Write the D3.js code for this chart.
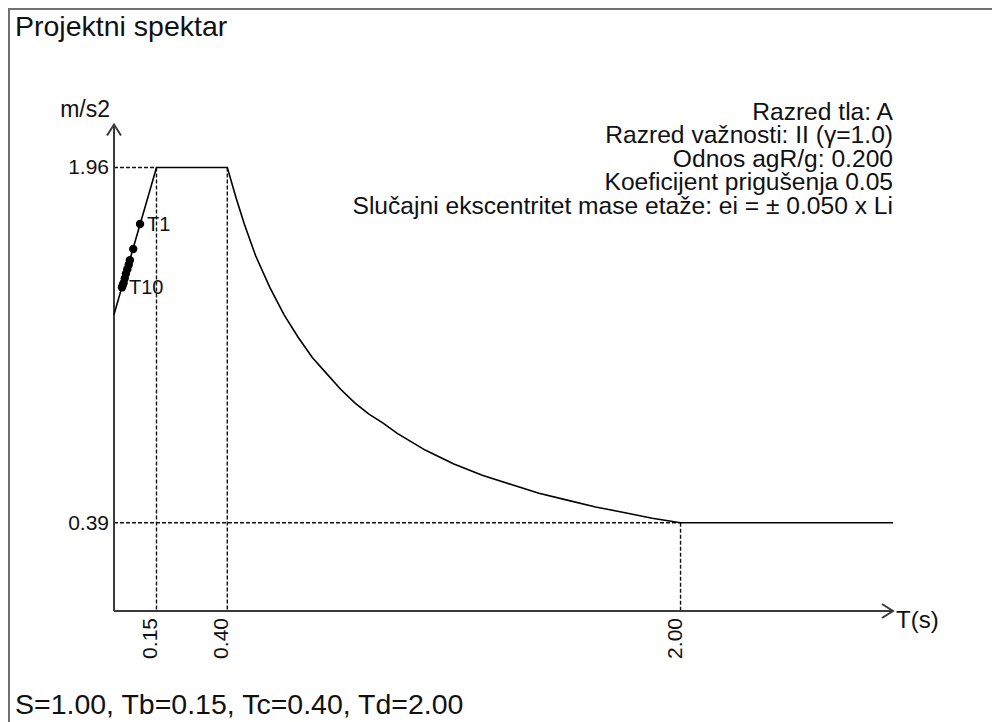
<!DOCTYPE html>
<html>
<head>
<meta charset="utf-8">
<script src="https://cdn.jsdelivr.net/npm/d3@7"></script>
<style>
  html, body { margin: 0; padding: 0; background: #fff; }
  svg { display: block; }
  text { font-family: "Liberation Sans", Arial, sans-serif; fill: #111; }
</style>
</head>
<body>
<svg id="chart" width="992" height="722"></svg>
<script>
// Design spectrum Sd(T), m/s2
const specT  = [0.00, 0.15, 0.40, 0.43, 0.46, 0.50, 0.55, 0.60, 0.65, 0.70, 0.75, 0.80, 0.85, 0.90, 0.95, 1.00, 1.10, 1.20, 1.30, 1.40, 1.50, 1.60, 1.70, 1.80, 1.90, 2.00, 2.75];
const specSd = [1.31, 1.96, 1.96, 1.83, 1.71, 1.57, 1.43, 1.31, 1.21, 1.12, 1.05, 0.98, 0.92, 0.87, 0.83, 0.785, 0.71, 0.65, 0.60, 0.56, 0.52, 0.49, 0.46, 0.435, 0.41, 0.39, 0.39];

// Periods of the structure's modes
const modeNames = ["T1", "T2", "T3", "T4", "T5", "T6", "T7", "T8", "T9", "T10"];
const modeT     = [0.092, 0.068, 0.056, 0.052, 0.047, 0.042, 0.038, 0.034, 0.031, 0.028];
const modeSd    = [1.71, 1.60, 1.55, 1.53, 1.51, 1.49, 1.47, 1.45, 1.44, 1.43];
const labeledModes = ["T1", "T10"];

// Characteristic periods and spectrum levels
const xTicks = [0.15, 0.40, 2.00];
const yTicks = [0.39, 1.96];

const title = "Projektni spektar";
const infoLines = [
  "Razred tla: A",
  "Razred važnosti: II (γ=1.0)",
  "Odnos agR/g: 0.200",
  "Koeficijent prigušenja 0.05",
  "Slučajni ekscentritet mase etaže: ei = ± 0.050 x Li"
];
const footer = "S=1.00, Tb=0.15, Tc=0.40, Td=2.00";

const svg = d3.select("#chart");

// frame
svg.append("path")
  .attr("d", "M9,722 V9 H992")
  .attr("fill", "none")
  .attr("stroke", "#707070")
  .attr("stroke-width", 2);

svg.append("text")
  .attr("x", 15).attr("y", 36)
  .attr("font-size", 28.5)
  .text(title);

svg.append("text")
  .attr("x", 15).attr("y", 714)
  .attr("font-size", 28.5)
  .text(footer);

const x = d3.scaleLinear().domain([0, 2.75]).range([114, 893]);
const y = d3.scaleLinear().domain([0, 2.15]).range([611, 124.5]);

// guide lines at the characteristic periods
const peak = d3.max(yTicks);
const floor = d3.min(yTicks);
const guides = [
  [[0, peak], [xTicks[0], peak]],
  [[xTicks[0], peak], [xTicks[0], 0]],
  [[xTicks[1], peak], [xTicks[1], 0]],
  [[0, floor], [xTicks[2], floor]],
  [[xTicks[2], floor], [xTicks[2], 0]]
];
svg.append("g").selectAll("line").data(guides).join("line")
  .attr("x1", d => x(d[0][0])).attr("y1", d => y(d[0][1]))
  .attr("x2", d => x(d[1][0])).attr("y2", d => y(d[1][1]))
  .attr("stroke", "#111")
  .attr("stroke-width", 1.4)
  .attr("stroke-dasharray", "4,2");

// axes with open arrow heads
const axes = svg.append("g")
  .attr("fill", "none")
  .attr("stroke", "#3a3a3a")
  .attr("stroke-width", 2);
const x0 = x(0), y0 = y(0), yTop = y(2.15), xEnd = x(2.75);
axes.append("path").attr("d", `M${x0},${y0} V${yTop}`);
axes.append("path").attr("d", `M${x0 - 7},${yTop + 11} L${x0},${yTop} L${x0 + 7},${yTop + 11}`);
axes.append("path").attr("d", `M${x0},${y0} H${xEnd}`);
axes.append("path").attr("d", `M${xEnd - 11},${y0 - 7} L${xEnd},${y0} L${xEnd - 11},${y0 + 7}`);

svg.append("text")
  .attr("x", x0 - 4).attr("y", 117)
  .attr("text-anchor", "end")
  .attr("font-size", 23)
  .text("m/s2");

svg.append("text")
  .attr("x", xEnd + 3).attr("y", 628)
  .attr("font-size", 24)
  .text("T(s)");

// y values
svg.append("g").selectAll("text").data(yTicks).join("text")
  .attr("x", x0 - 5)
  .attr("y", d => y(d) + 7)
  .attr("text-anchor", "end")
  .attr("font-size", 21)
  .text(d => d.toFixed(2));

// x values, rotated
svg.append("g").selectAll("text").data(xTicks).join("text")
  .attr("transform", d => `translate(${x(d) + 1},${y0 + 7}) rotate(-90)`)
  .attr("text-anchor", "end")
  .attr("font-size", 21)
  .text(d => d.toFixed(2));

// spectrum curve
const spec = specT.map((t, i) => [t, specSd[i]]);
svg.append("path")
  .datum(spec)
  .attr("d", d3.line().x(d => x(d[0])).y(d => y(d[1])))
  .attr("fill", "none")
  .attr("stroke", "#000")
  .attr("stroke-width", 1.6);

// mode points
const modes = modeNames.map((n, i) => ({ name: n, t: modeT[i], sd: modeSd[i] }));
svg.append("g").selectAll("circle").data(modes).join("circle")
  .attr("cx", d => x(d.t))
  .attr("cy", d => y(d.sd))
  .attr("r", 4.2)
  .attr("fill", "#000");

svg.append("g").selectAll("text")
  .data(modes.filter(d => labeledModes.includes(d.name)))
  .join("text")
  .attr("x", d => x(d.t) + 7)
  .attr("y", d => y(d.sd) + 7)
  .attr("font-size", 20)
  .text(d => d.name);

// project info, right aligned
svg.append("g").selectAll("text").data(infoLines).join("text")
  .attr("x", 893)
  .attr("y", (d, i) => 120 + i * 23.4)
  .attr("text-anchor", "end")
  .attr("font-size", 24.6)
  .text(d => d);
</script>
</body>
</html>
